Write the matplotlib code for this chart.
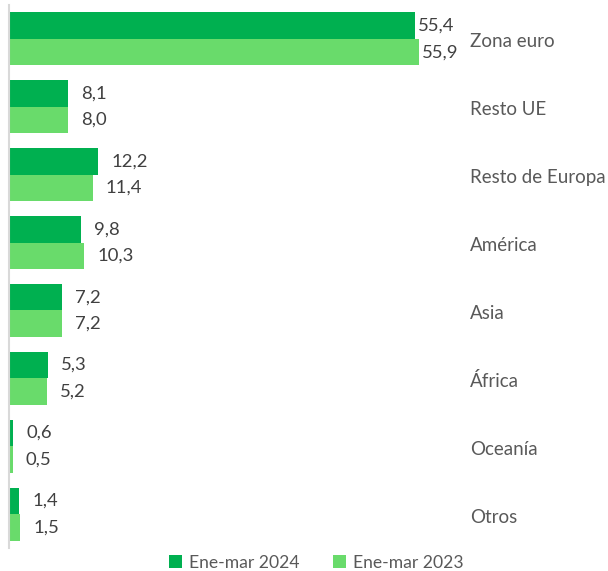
import matplotlib.pyplot as plt
import numpy as np

regions = ["Zona euro", "Resto UE", "Resto de Europa", "América", "Asia",
           "África", "Oceanía", "Otros"]
v2024 = [55.4, 8.1, 12.2, 9.8, 7.2, 5.3, 0.6, 1.4]
v2023 = [55.9, 8.0, 11.4, 10.3, 7.2, 5.2, 0.5, 1.5]
series_names = ["Ene-mar 2024", "Ene-mar 2023"]

dark = "#00B050"
light = "#69DB6B"

plt.rcParams['font.family'] = ['Lato', 'DejaVu Sans']

fig = plt.figure(figsize=(6.08, 5.71), dpi=100)
ax = fig.add_axes([9/608, 23/571, 599/608, 543/571])

y = np.arange(len(regions))
h = 0.39
ax.barh(y - h/2, v2024, height=h, color=dark, label=series_names[0])
ax.barh(y + h/2, v2023, height=h, color=light, label=series_names[1])

def lab(v):
    return f"{v:.1f}".replace(".", ",")

for i in range(len(regions)):
    # labels squeezed next to the long bars
    off = 0.4 if v2024[i] > 50 else 1.8
    ax.text(v2024[i] + off, y[i] - h/2, lab(v2024[i]),
            va="center", ha="left", fontsize=13.3, color="#404040")
    ax.text(v2023[i] + off, y[i] + h/2, lab(v2023[i]),
            va="center", ha="left", fontsize=13.3, color="#404040")
    ax.text(62.9, y[i] + 0.045, regions[i], va="center", ha="left",
            fontsize=13.5, color="#595959")

ax.set_xlim(0, 599/7.33)
ax.set_ylim(len(regions) - 0.5, -0.5)
for s in ["top", "right", "bottom"]:
    ax.spines[s].set_visible(False)
ax.spines["left"].set_color("#D9D9D9")
ax.spines["left"].set_linewidth(1.5)
ax.set_xticks([])
ax.set_yticks([])

fig.legend(loc="lower center", bbox_to_anchor=(0.52, -0.027), ncol=2,
           frameon=False, handlelength=0.75, handleheight=0.75,
           handletextpad=0.4, columnspacing=1.9, fontsize=12.6,
           labelcolor="#595959")

fig.savefig("out.png", dpi=100)
